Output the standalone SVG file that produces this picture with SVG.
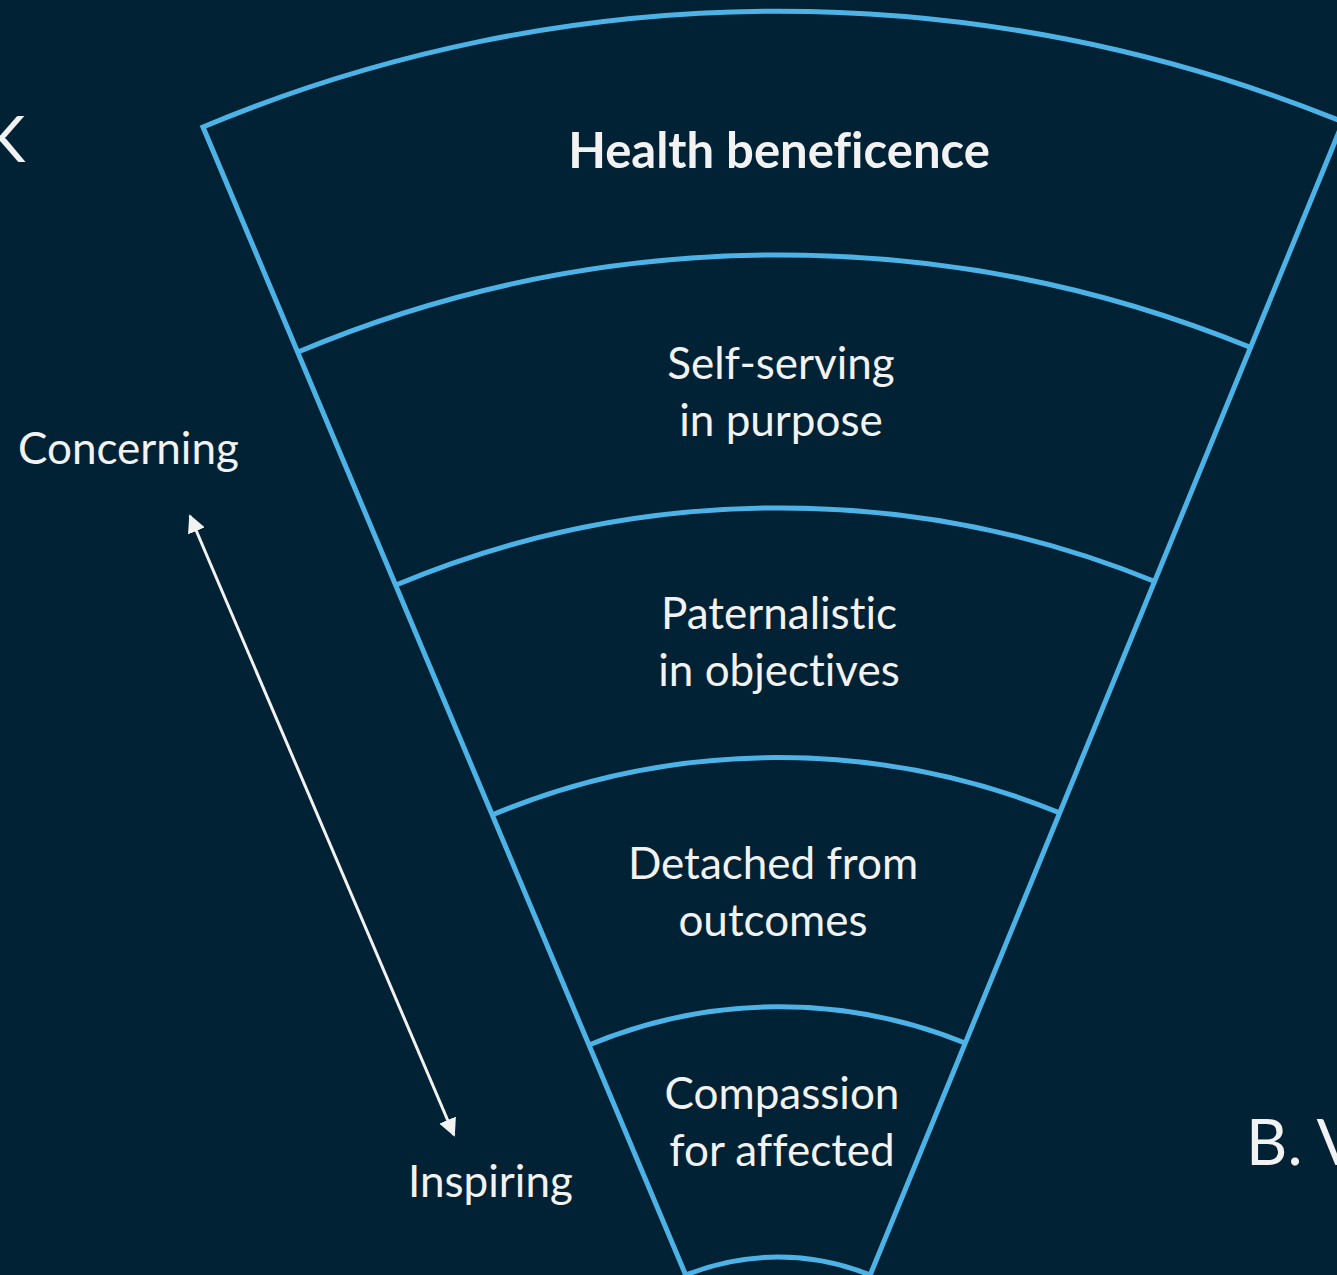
<svg xmlns="http://www.w3.org/2000/svg" width="1337" height="1275" viewBox="0 0 1337 1275">
<defs>
<style>
.bg{fill:#012235}
.ln{fill:none;stroke:#4DB3E6;stroke-width:5;stroke-linejoin:miter}
.t{font-family:Lato,"Open Sans","Liberation Sans",sans-serif;fill:#F2F2F2;font-size:44px;text-anchor:middle;font-variant-ligatures:none}
.b{font-weight:bold;font-size:49px}
.l{text-anchor:start}
.big{font-size:64px;text-anchor:start}
.arr{stroke:#F2F2F2;stroke-width:3;fill:none}
</style>
<marker id="ah" viewBox="0 0 10 10" refX="9" refY="5" markerWidth="6" markerHeight="6" markerUnits="strokeWidth" orient="auto-start-reverse">
<path d="M0,0 L10,5 L0,10 z" fill="#F2F2F2"/>
</marker>
</defs>
<rect class="bg" x="0" y="0" width="1337" height="1275"/>
<g id="funnel">
<path class="ln" d="M692,1290 L203,127 A1490 1490 0 0 1 1343,122 L864,1290"/>
</g>
<g id="node-health">
<text class="t b" x="779" y="168">Health beneficence</text>
</g>
<g id="node-selfserving">
<path class="ln" d="M298,352 A1245 1245 0 0 1 1252,348"/>
<text class="t" x="781" y="379">Self-serving</text>
<text class="t" x="781" y="436">in purpose</text>
</g>
<g id="node-paternalistic">
<path class="ln" d="M396,585 A993 993 0 0 1 1156,582"/>
<text class="t" x="779" y="629">Paternalistic</text>
<text class="t" x="779" y="686">in objectives</text>
</g>
<g id="node-detached">
<path class="ln" d="M492,815 A743 743 0 0 1 1060,813"/>
<text class="t" x="773" y="879">Detached from</text>
<text class="t" x="773" y="936">outcomes</text>
</g>
<g id="node-compassion">
<path class="ln" d="M589,1045 A493 493 0 0 1 965,1043"/>
<text class="t" x="782" y="1109">Compassion</text>
<text class="t" x="782" y="1166">for affected</text>
</g>
<g id="node-bottom">
<path class="ln" d="M686,1275 A244 244 0 0 1 870,1275"/>
</g>
<g id="connectors">
<line class="arr" x1="190" y1="516" x2="454" y2="1135" marker-start="url(#ah)" marker-end="url(#ah)"/>
</g>
<g id="labels">
<text class="t l" x="18" y="464">Concerning</text>
<text class="t l" x="408" y="1197">Inspiring</text>
<text class="t big" x="1246" y="1165">B. V</text>
<text class="t big" x="-17" y="162">K</text>
</g>
</svg>
